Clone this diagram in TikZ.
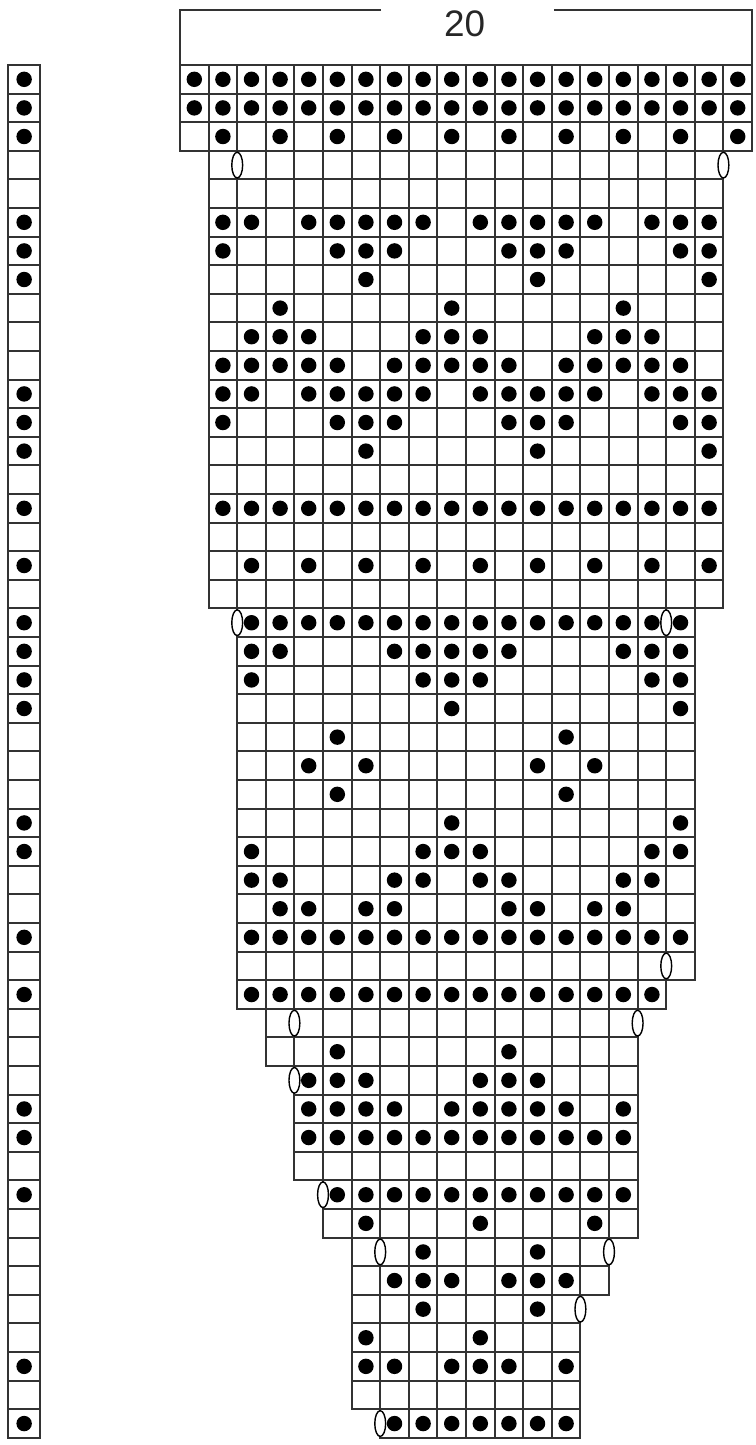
\documentclass[tikz,border=0pt]{standalone}
\usepackage{fontspec}
\setmainfont{Liberation Sans}
\begin{document}
\begin{tikzpicture}[
    x=0.572cm, y=-0.572cm,
    line width=1.1pt,
    grid line/.style={draw=black!80},
    stitch dot/.style={fill=black},
    dec mark/.style={draw=black, fill=white, line width=0.8pt},
    count label/.style={font=\fontsize{21}{24}\selectfont, text=black!85}
  ]
    \useasboundingbox (-6.294,-2.273) rectangle (20.105,48.25);

    % 1. Скобка и число петель
    \coordinate (TL) at (0,0);
    \coordinate (TR) at (20,0);
    \coordinate (HL) at (0,-1.92);
    \coordinate (HR) at (20,-1.92);
    \coordinate (GL) at (7.03,-1.92);
    \coordinate (GR) at (13.07,-1.92);
    \node[count label] (cnt) at (9.95,-1.43) {20};
    \draw[grid line] (GL) -- (HL) -- (TL);
    \draw[grid line] (GR) -- (HR) -- (TR);

    % 2. Клетки схемы (ряды с / по, петли с / по)
    \foreach \ra/\rb/\ca/\cb in {0/2/0/19, 3/18/1/18, 19/31/2/17, 32/32/2/16,
        33/34/3/15, 35/38/4/15, 39/40/5/15, 41/42/6/14, 43/46/6/13, 47/47/7/13} {
        \foreach \r in {\ra,...,\rb} {
            \foreach \c in {\ca,...,\cb}
                \draw[grid line] (\c,\r) rectangle ++(1,1);
        }
    }

    % 3. Точки (изнаночные)
    \foreach \r/\cl in {0/{0,...,19}, 1/{0,...,19}, 2/{1,3,...,19},
        5/{1,2,4,5,6,7,8,10,11,12,13,14,16,17,18},
        6/{1,5,6,7,11,12,13,17,18}, 7/{6,12,18}, 8/{3,9,15},
        9/{2,3,4,8,9,10,14,15,16},
        10/{1,2,3,4,5,7,8,9,10,11,13,14,15,16,17},
        11/{1,2,4,5,6,7,8,10,11,12,13,14,16,17,18},
        12/{1,5,6,7,11,12,13,17,18}, 13/{6,12,18},
        15/{1,...,18}, 17/{2,4,...,18},
        19/{2,...,17}, 20/{2,3,7,8,9,10,11,15,16,17}, 21/{2,8,9,10,16,17},
        22/{9,17}, 23/{5,13}, 24/{4,6,12,14}, 25/{5,13}, 26/{9,17},
        27/{2,8,9,10,16,17}, 28/{2,3,7,8,10,11,15,16},
        29/{3,4,6,7,11,12,14,15}, 30/{2,...,17}, 32/{2,...,16},
        34/{5,11}, 35/{4,5,6,10,11,12}, 36/{4,5,6,7,9,10,11,12,13,15},
        37/{4,...,15}, 39/{5,...,15}, 40/{6,10,14}, 41/{8,12},
        42/{7,8,9,11,12,13}, 43/{8,12}, 44/{6,10}, 45/{6,7,9,10,11,13},
        47/{7,...,13}} {
        \foreach \c in \cl
            \fill[stitch dot] (\c+0.5,\r+0.5) circle (0.27);
    }

    % 4. Убавки (овалы)
    \foreach \r/\l in {3/2, 3/19, 19/2, 19/17, 31/17, 33/4, 33/16, 35/4,
        39/5, 41/7, 41/15, 43/14, 47/7} {
        \draw[dec mark] (\l,\r+0.5) ellipse (0.19 and 0.45);
    }

    % 5. Боковая полоса
    \foreach \r in {0,...,47} {
        \draw[grid line] (-6.01,\r) rectangle ++(1.12,1);
    }
    \foreach \r in {0,1,2,5,6,7,11,12,13,15,17,19,20,21,22,26,27,30,32,36,37,39,45,47} {
        \fill[stitch dot] (-5.45,\r+0.5) circle (0.27);
    }

  \end{tikzpicture}
\end{document}
